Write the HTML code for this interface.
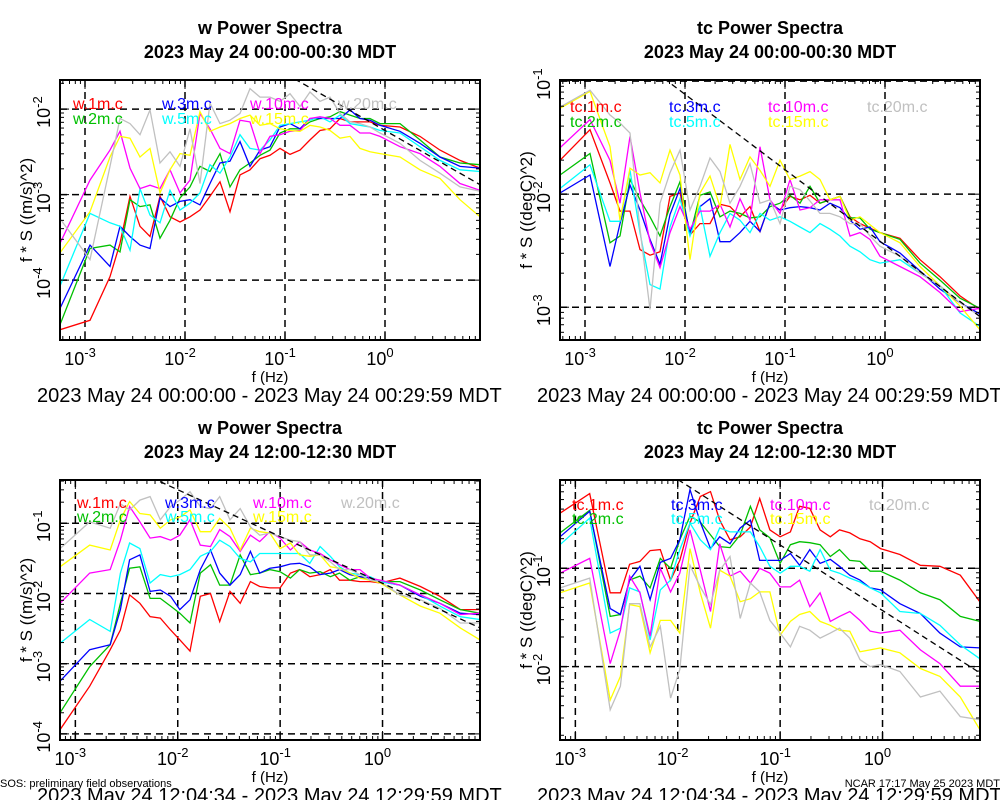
<!DOCTYPE html>
<html><head><meta charset="utf-8"><style>
html,body{margin:0;padding:0;background:#fff;}
svg{display:block;font-family:"Liberation Sans",sans-serif;}
</style></head><body>
<svg id="chart" width="1000" height="800" viewBox="0 0 1000 800" xmlns="http://www.w3.org/2000/svg"></svg>
<script>
// ---- Data (log10 frequency in Hz, log10 of f*S) ----
const freqTop = [-3.25,-2.95,-2.75,-2.65,-2.55,-2.45,-2.35,-2.25,-2.15,-2.05,-1.95,-1.85,-1.75,-1.65,-1.55,-1.45,-1.35,-1.25,-1.15,-1.05,-0.95,-0.85,-0.75,-0.65,-0.55,-0.45,-0.35,-0.25,-0.15,-0.05,0.15,0.35,0.55,0.75,0.95];
const freqBot = [-3.15,-2.86,-2.66,-2.56,-2.47,-2.37,-2.27,-2.17,-2.07,-1.98,-1.88,-1.78,-1.68,-1.59,-1.49,-1.39,-1.29,-1.20,-1.10,-1.00,-0.90,-0.81,-0.71,-0.61,-0.51,-0.42,-0.32,-0.22,-0.12,-0.02,0.17,0.37,0.56,0.76,0.95];
const legendW = ["w.1m.c","w.2m.c","w.3m.c","w.5m.c","w.10m.c","w.15m.c","w.20m.c"];
const legendT = ["tc.1m.c","tc.2m.c","tc.3m.c","tc.5m.c","tc.10m.c","tc.15m.c","tc.20m.c"];
const seriesColors = ["#ff0000","#00c000","#0000ff","#00ffff","#ff00ff","#ffff00","#c0c0c0"];

const p1_1m = [-4.58,-4.47,-3.96,-3.57,-3.02,-3.37,-3.49,-3.02,-3.26,-3.32,-3.26,-3.18,-3.02,-2.85,-3.20,-2.77,-2.71,-2.58,-2.54,-2.46,-2.53,-2.48,-2.36,-2.25,-2.23,-2.11,-2.15,-2.15,-2.15,-2.19,-2.21,-2.32,-2.48,-2.60,-2.69];
const p1_2m = [-4.52,-3.63,-3.59,-3.67,-3.06,-3.14,-3.12,-3.51,-3.30,-3.04,-2.91,-2.67,-2.73,-2.52,-2.91,-2.71,-2.63,-2.54,-2.48,-2.28,-2.23,-2.23,-2.15,-2.11,-2.09,-2.03,-2.07,-2.11,-2.11,-2.17,-2.17,-2.36,-2.56,-2.63,-2.65];
const p1_3m = [-4.33,-3.59,-3.84,-3.37,-3.49,-3.59,-3.63,-3.04,-3.14,-3.08,-3.06,-3.12,-2.87,-2.63,-2.61,-2.38,-2.67,-2.48,-2.44,-2.21,-2.17,-2.23,-2.11,-2.11,-2.11,-2.11,-2.01,-2.11,-2.13,-2.19,-2.26,-2.40,-2.56,-2.67,-2.69];
const p1_5m = [-4.07,-3.22,-3.33,-3.37,-3.65,-2.93,-3.24,-3.33,-2.95,-3.18,-3.10,-2.98,-2.65,-2.75,-2.56,-2.30,-2.46,-2.48,-2.36,-2.19,-2.17,-2.15,-2.13,-2.09,-2.15,-2.07,-2.17,-2.19,-2.21,-2.25,-2.28,-2.44,-2.60,-2.71,-2.73];
const p1_10m = [-3.57,-2.83,-2.48,-2.26,-2.69,-2.93,-2.89,-2.93,-2.71,-2.98,-2.83,-2.05,-2.23,-2.46,-2.52,-2.13,-2.15,-2.52,-2.32,-2.30,-2.26,-2.25,-2.11,-2.09,-2.11,-2.19,-2.19,-2.28,-2.28,-2.32,-2.44,-2.52,-2.67,-2.87,-2.95];
const p1_15m = [-3.68,-3.20,-2.56,-2.32,-2.34,-2.56,-2.46,-2.98,-2.71,-2.52,-2.54,-2.03,-2.26,-2.21,-2.17,-2.11,-2.07,-2.19,-2.17,-2.23,-2.25,-2.26,-2.19,-2.21,-2.25,-2.34,-2.32,-2.46,-2.50,-2.52,-2.56,-2.71,-2.81,-3.06,-3.26];
const p1_20m = [-3.28,-3.76,-2.67,-2.11,-2.17,-2.30,-2.01,-2.63,-2.50,-2.67,-2.23,-2.87,-1.93,-2.17,-2.13,-2.05,-1.76,-1.86,-1.86,-1.91,-1.82,-1.97,-1.80,-1.91,-1.86,-2.05,-2.15,-2.17,-2.21,-2.28,-2.40,-2.60,-2.75,-2.91,-2.96];

const p2_1m = [-1.70,-1.43,-1.90,-2.15,-2.15,-2.49,-2.54,-2.51,-2.02,-1.99,-2.36,-2.26,-2.26,-2.09,-2.11,-2.20,-2.11,-2.33,-2.08,-2.14,-2.02,-2.05,-2.01,-2.08,-2.05,-2.02,-2.20,-2.26,-2.30,-2.34,-2.39,-2.58,-2.73,-2.90,-3.02];
const p2_2m = [-1.83,-1.64,-2.43,-2.37,-1.87,-2.05,-2.20,-2.37,-2.11,-1.89,-2.36,-2.01,-1.98,-2.20,-2.15,-2.17,-2.21,-2.20,-2.11,-2.08,-2.01,-2.08,-1.93,-2.08,-2.05,-2.02,-2.21,-2.21,-2.31,-2.34,-2.40,-2.61,-2.76,-2.92,-3.01];
const p2_3m = [-1.99,-1.83,-2.64,-2.26,-1.92,-2.14,-2.40,-2.62,-2.18,-1.95,-2.34,-2.11,-2.04,-2.42,-2.42,-2.34,-2.24,-2.33,-2.08,-2.14,-2.12,-2.11,-2.12,-2.14,-2.08,-2.12,-2.23,-2.31,-2.29,-2.42,-2.52,-2.68,-2.84,-2.96,-3.06];
const p2_5m = [-1.95,-1.74,-2.24,-2.24,-1.79,-2.34,-2.80,-2.84,-2.29,-2.04,-2.37,-2.11,-2.55,-2.34,-2.17,-2.23,-2.34,-2.17,-2.23,-2.20,-2.24,-2.29,-2.34,-2.26,-2.31,-2.37,-2.46,-2.51,-2.58,-2.61,-2.58,-2.70,-2.81,-3.05,-3.17];
const p2_10m = [-1.59,-1.34,-1.70,-2.08,-1.49,-1.99,-2.42,-2.65,-2.34,-2.11,-2.31,-2.15,-2.15,-2.09,-2.29,-2.04,-2.23,-1.58,-2.05,-2.17,-1.87,-2.14,-2.12,-2.05,-2.05,-2.05,-2.37,-2.34,-2.40,-2.55,-2.64,-2.73,-2.87,-3.04,-3.01];
const p2_15m = [-1.24,-1.09,-1.58,-2.23,-1.77,-1.83,-1.81,-1.90,-1.61,-1.83,-2.58,-1.99,-1.84,-2.11,-1.56,-1.87,-1.67,-1.79,-1.93,-1.70,-1.87,-1.84,-1.80,-1.87,-2.05,-2.02,-2.23,-2.20,-2.27,-2.34,-2.43,-2.64,-2.81,-2.99,-3.20];
const p2_20m = [-1.23,-1.08,-1.30,-1.37,-1.46,-2.31,-3.02,-2.08,-1.81,-1.61,-2.14,-1.93,-1.68,-1.80,-2.08,-1.93,-1.73,-2.08,-2.05,-2.26,-1.93,-1.96,-2.06,-2.17,-2.17,-2.20,-2.26,-2.26,-2.37,-2.46,-2.55,-2.70,-2.81,-2.96,-3.08];

const p3_1m = [-3.94,-3.32,-2.80,-2.52,-2.02,-2.14,-2.33,-2.35,-2.52,-2.66,-2.82,-2.04,-2.00,-2.40,-1.97,-2.14,-1.83,-1.90,-1.92,-1.92,-1.71,-1.66,-1.76,-1.73,-1.66,-1.81,-1.81,-1.83,-1.83,-1.85,-1.78,-1.90,-2.04,-2.23,-2.23];
const p3_2m = [-3.70,-3.04,-2.73,-2.14,-1.64,-1.62,-2.07,-2.07,-2.18,-2.28,-2.42,-1.71,-1.59,-1.88,-1.88,-1.45,-1.73,-1.71,-1.66,-1.69,-1.78,-1.66,-1.71,-1.69,-1.76,-1.71,-1.81,-1.76,-1.81,-1.83,-1.83,-1.95,-2.09,-2.23,-2.28];
const p3_3m = [-3.25,-2.80,-2.73,-2.23,-1.52,-1.45,-1.97,-1.95,-2.04,-2.23,-2.09,-1.66,-1.38,-1.71,-1.88,-1.73,-1.40,-1.71,-1.64,-1.62,-1.58,-1.57,-1.62,-1.73,-1.71,-1.66,-1.73,-1.76,-1.78,-1.83,-1.88,-2.04,-2.14,-2.28,-2.30];
const p3_5m = [-2.71,-2.37,-2.54,-1.71,-1.28,-1.36,-1.85,-1.73,-1.76,-1.73,-1.66,-1.47,-1.40,-1.24,-1.33,-1.50,-1.55,-1.43,-1.43,-1.43,-1.43,-1.43,-1.57,-1.33,-1.47,-1.62,-1.71,-1.73,-1.76,-1.83,-1.88,-2.02,-2.18,-2.33,-2.37];
const p3_10m = [-2.14,-1.71,-1.66,-1.24,-0.76,-0.98,-1.21,-1.19,-1.24,-1.17,-0.95,-1.31,-1.33,-1.09,-1.19,-1.40,-1.17,-1.26,-1.12,-1.21,-1.38,-1.26,-1.38,-1.43,-1.52,-1.59,-1.66,-1.66,-1.78,-1.81,-1.88,-2.02,-2.14,-2.30,-2.28];
const p3_15m = [-1.62,-1.31,-1.38,-0.95,-0.69,-0.86,-0.88,-1.07,-0.95,-0.91,-0.81,-1.12,-1.12,-0.93,-1.07,-1.38,-1.07,-1.12,-1.14,-1.36,-1.28,-1.45,-1.47,-1.45,-1.62,-1.64,-1.71,-1.78,-1.81,-1.85,-2.02,-2.18,-2.28,-2.49,-2.66];
const p3_20m = [-1.36,-0.98,-1.07,-0.72,-0.81,-0.67,-0.62,-0.95,-0.76,-0.67,-0.55,-0.76,-0.79,-0.62,-0.95,-0.79,-1.05,-1.17,-1.14,-1.19,-1.24,-1.26,-1.45,-1.45,-1.55,-1.66,-1.66,-1.73,-1.81,-1.83,-2.02,-2.09,-2.21,-2.42,-2.42];

const p4_1m = [-0.44,-0.24,-1.25,-1.25,-0.96,-0.93,-0.82,-0.81,-1.12,-0.92,-0.54,-0.27,-0.22,-0.51,-0.71,-0.68,-0.58,-0.29,-0.61,-0.68,-0.63,-0.37,-0.39,-0.61,-0.68,-0.61,-0.64,-0.70,-0.73,-0.80,-0.86,-0.97,-0.98,-1.07,-1.34];
const p4_2m = [-0.64,-0.41,-1.49,-1.47,-1.12,-1.08,-1.20,-0.90,-1.00,-0.71,-0.47,-0.53,-0.66,-0.78,-0.79,-0.66,-0.37,-0.61,-0.69,-0.95,-0.76,-0.73,-0.74,-0.76,-0.88,-0.81,-0.92,-0.93,-1.03,-1.03,-1.12,-1.25,-1.32,-1.49,-1.54];
const p4_3m = [-0.68,-0.42,-1.41,-1.47,-1.12,-0.98,-1.32,-0.94,-0.90,-0.71,-0.20,-0.53,-0.80,-0.68,-0.75,-0.59,-0.51,-0.92,-0.92,-0.92,-0.85,-0.97,-0.81,-0.95,-0.91,-0.98,-1.07,-1.12,-1.20,-1.22,-1.36,-1.46,-1.66,-1.80,-1.81];
const p4_5m = [-0.76,-0.49,-1.66,-1.61,-1.20,-1.24,-1.73,-1.22,-1.12,-0.81,-0.54,-0.71,-0.81,-0.59,-0.63,-0.63,-0.63,-0.78,-0.98,-1.05,-0.98,-0.98,-1.03,-0.81,-1.02,-1.05,-1.10,-1.14,-1.20,-1.25,-1.44,-1.46,-1.58,-1.78,-1.92];
const p4_10m = [-1.05,-0.90,-1.97,-1.63,-1.08,-1.25,-1.69,-1.00,-1.24,-1.05,-0.61,-1.02,-1.44,-0.75,-1.08,-1.03,-1.15,-1.00,-1.05,-1.19,-1.19,-1.12,-1.39,-1.25,-1.54,-1.49,-1.44,-1.53,-1.64,-1.66,-1.63,-1.83,-1.97,-2.20,-2.20];
const p4_15m = [-1.25,-1.15,-2.34,-2.10,-1.37,-1.39,-1.86,-1.53,-1.53,-1.66,-0.80,-1.25,-1.61,-1.02,-1.08,-1.34,-1.31,-1.24,-1.24,-1.68,-1.54,-1.47,-1.44,-1.54,-1.58,-1.63,-1.64,-1.85,-1.83,-1.81,-1.86,-2.02,-2.10,-2.31,-2.64];
const p4_20m = [-1.20,-1.10,-2.44,-2.20,-1.36,-1.36,-1.80,-1.59,-2.32,-2.03,-0.97,-1.19,-1.37,-1.02,-0.88,-1.51,-1.15,-1.24,-1.53,-1.66,-1.80,-1.59,-1.63,-1.71,-1.66,-1.61,-1.71,-1.93,-2.00,-1.98,-2.05,-2.31,-2.25,-2.51,-2.54];

// reference -2/3 slope lines: intercept (log10 value at f = 1 Hz)
const refIntercepts = [-2.25, -2.45, -1.855, -1.43];
const refSlope = -2/3;

const xTickExps = [-3,-2,-1,0];
const yTicksP1 = [-4,-3,-2];
const yTicksP2 = [-3,-2,-1];
const yTicksP3 = [-4,-3,-2,-1];
const yTicksP4 = [-2,-1];

// ---- Rendering ----
const NS = "http://www.w3.org/2000/svg";
const svg = document.getElementById("chart");
function mk(tag, attrs, parent){
  const e = document.createElementNS(NS, tag);
  for (const k in attrs) e.setAttribute(k, attrs[k]);
  (parent||svg).appendChild(e);
  return e;
}
const panels = [
  {id:"p1", box:[60,80,480,340], xr:[-3.25,0.95], yr:[-4.70,-1.66], yt:yTicksP1, freq:freqTop, series:[p1_1m,p1_2m,p1_3m,p1_5m,p1_10m,p1_15m,p1_20m], legend:legendW,
   legX:[73,162,250,338], legY:[109,124], cx:270, title:"w Power Spectra", sub:"2023 May 24 00:00-00:30 MDT", ytitle:"f * S ((m/s)^2)", range:"2023 May 24 00:00:00 - 2023 May 24 00:29:59 MDT", rangeX:37, top:0, ref:0},
  {id:"p2", box:[560,80,980,340], xr:[-3.25,0.95], yr:[-3.29,-0.99], yt:yTicksP2, freq:freqTop, series:[p2_1m,p2_2m,p2_3m,p2_5m,p2_10m,p2_15m,p2_20m], legend:legendT,
   legX:[570,669,768,867], legY:[112,127], cx:770, title:"tc Power Spectra", sub:"2023 May 24 00:00-00:30 MDT", ytitle:"f * S ((degC)^2)", range:"2023 May 24 00:00:00 - 2023 May 24 00:29:59 MDT", rangeX:537, top:0, ref:1},
  {id:"p3", box:[60,480,480,740], xr:[-3.15,0.952], yr:[-4.087,-0.383], yt:yTicksP3, freq:freqBot, series:[p3_1m,p3_2m,p3_3m,p3_5m,p3_10m,p3_15m,p3_20m], legend:legendW,
   legX:[77,165,253,341], legY:[508,522], cx:270, title:"w Power Spectra", sub:"2023 May 24 12:00-12:30 MDT", ytitle:"f * S ((m/s)^2)", range:"2023 May 24 12:04:34 - 2023 May 24 12:29:59 MDT", rangeX:37, top:400, ref:2},
  {id:"p4", box:[560,480,980,740], xr:[-3.15,0.952], yr:[-2.747,-0.102], yt:yTicksP4, freq:freqBot, series:[p4_1m,p4_2m,p4_3m,p4_5m,p4_10m,p4_15m,p4_20m], legend:legendT,
   legX:[572,671,770,869], legY:[510,524], cx:770, title:"tc Power Spectra", sub:"2023 May 24 12:00-12:30 MDT", ytitle:"f * S ((degC)^2)", range:"2023 May 24 12:04:34 - 2023 May 24 12:29:59 MDT", rangeX:537, top:400, ref:3}
];

panels.forEach((p, pi) => {
  const [x0,y0,x1,y1] = p.box;
  const sx = v => x0 + (v - p.xr[0]) / (p.xr[1]-p.xr[0]) * (x1-x0);
  const sy = v => y1 - (v - p.yr[0]) / (p.yr[1]-p.yr[0]) * (y1-y0);
  const g = mk("g", {});
  
  

  const t1 = mk("text", {x:p.cx, y:p.top+34, "text-anchor":"middle", "font-size":"18", "font-weight":"bold"}, g);
  t1.textContent = p.title;
  
  
  const t2 = mk("text", {x:p.cx, y:p.top+58, "text-anchor":"middle", "font-size":"18", "font-weight":"bold"}, g);
  t2.textContent = p.sub;
  
  

  const cp = mk("clipPath", {id:"clip"+pi}, g);
  mk("rect", {x:x0, y:y0, width:x1-x0, height:y1-y0}, cp);

  xTickExps.forEach(e => {
    const gl = mk("line", {x1:sx(e), x2:sx(e), y1:y0, y2:y1, stroke:"#000", "stroke-width":"1.5", "stroke-dasharray":"7,5"}, g);
    
    
  });
  p.yt.forEach(e => {
    const gl = mk("line", {x1:x0, x2:x1, y1:sy(e), y2:sy(e), stroke:"#000", "stroke-width":"1.5", "stroke-dasharray":"7,5"}, g);
    
    
  });

  p.series.forEach((vals, si) => {
    const pts = vals.map((v,i) => sx(p.freq[i]).toFixed(1) + "," + sy(v).toFixed(1)).join(" ");
    const pl = mk("polyline", {points:pts, fill:"none", stroke:seriesColors[si], "stroke-width":"1.3", "clip-path":"url(#clip"+pi+")"}, g);
    
    
  });

  const b = refIntercepts[p.ref];
  const rl = mk("line", {x1:sx(p.xr[0]), y1:sy(b + refSlope*p.xr[0]), x2:sx(p.xr[1]), y2:sy(b + refSlope*p.xr[1]), stroke:"#000", "stroke-width":"1.3", "stroke-dasharray":"6,4", "clip-path":"url(#clip"+pi+")"}, g);
  
  

  p.legend.forEach((name, si) => {
    const col = Math.floor(si/2), row = si%2;
    const lx = si===6 ? p.legX[3] : p.legX[col];
    const ly = si===6 ? p.legY[0] : p.legY[row];
    const lt = mk("text", {x:lx, y:ly, "font-size":"16", fill:seriesColors[si]}, g);
    lt.textContent = name;
    
    
  });

  const tk = mk("g", {stroke:"#000", "stroke-width":"1"}, g);
  
  
  for (let d=-4; d<=1; d++){
    for (let m=1; m<=9; m++){
      const v = d + Math.log10(m);
      const L = m===1 ? 9 : 4;
      if (v >= p.xr[0] && v <= p.xr[1]){
        const X = sx(v);
        mk("line",{x1:X,x2:X,y1:y1,y2:y1-L},tk);
        mk("line",{x1:X,x2:X,y1:y0,y2:y0+L},tk);
      }
      if (v >= p.yr[0] && v <= p.yr[1]){
        const Y = sy(v);
        mk("line",{x1:x0,x2:x0+L,y1:Y,y2:Y},tk);
        mk("line",{x1:x1,x2:x1-L,y1:Y,y2:Y},tk);
      }
    }
  }

  const fr = mk("rect", {x:x0, y:y0, width:x1-x0, height:y1-y0, fill:"none", stroke:"#000", "stroke-width":"2"}, g);
  
  

  xTickExps.forEach(e => {
    const t = mk("text", {x:sx(e)-5, y:y1+25, "text-anchor":"middle", "font-size":"18"}, g);
    
    
    const a = mk("tspan", {}, t); a.textContent = "10";
    const s = mk("tspan", {dy:"-8", "font-size":"13"}, t); s.textContent = String(e);
  });
  p.yt.forEach(e => {
    const Y = sy(e);
    const t = mk("text", {transform:"translate("+(x0-10)+","+(Y+3)+") rotate(-90)", "text-anchor":"middle", "font-size":"18"}, g);
    
    
    const a = mk("tspan", {}, t); a.textContent = "10";
    const s = mk("tspan", {dy:"-8", "font-size":"13"}, t); s.textContent = String(e);
  });

  const xt = mk("text", {x:(x0+x1)/2, y:y1+42, "text-anchor":"middle", "font-size":"15"}, g);
  xt.textContent = "f (Hz)";
  
  
  const yt = mk("text", {transform:"translate("+(x0-28)+","+((y0+y1)/2)+") rotate(-90)", "text-anchor":"middle", "font-size":"17"}, g);
  yt.textContent = p.ytitle;
  
  

  const tr = mk("text", {x:p.rangeX, y:y1+62, "font-size":"20"}, g);
  tr.textContent = p.range;
  
  
});

const f1 = mk("text", {x:0, y:787, "font-size":"11"});
f1.textContent = "SOS: preliminary field observations";


const f2 = mk("text", {x:1000, y:787, "font-size":"11", "text-anchor":"end"});
f2.textContent = "NCAR 17:17 May 25 2023 MDT";


</script>
</body></html>
